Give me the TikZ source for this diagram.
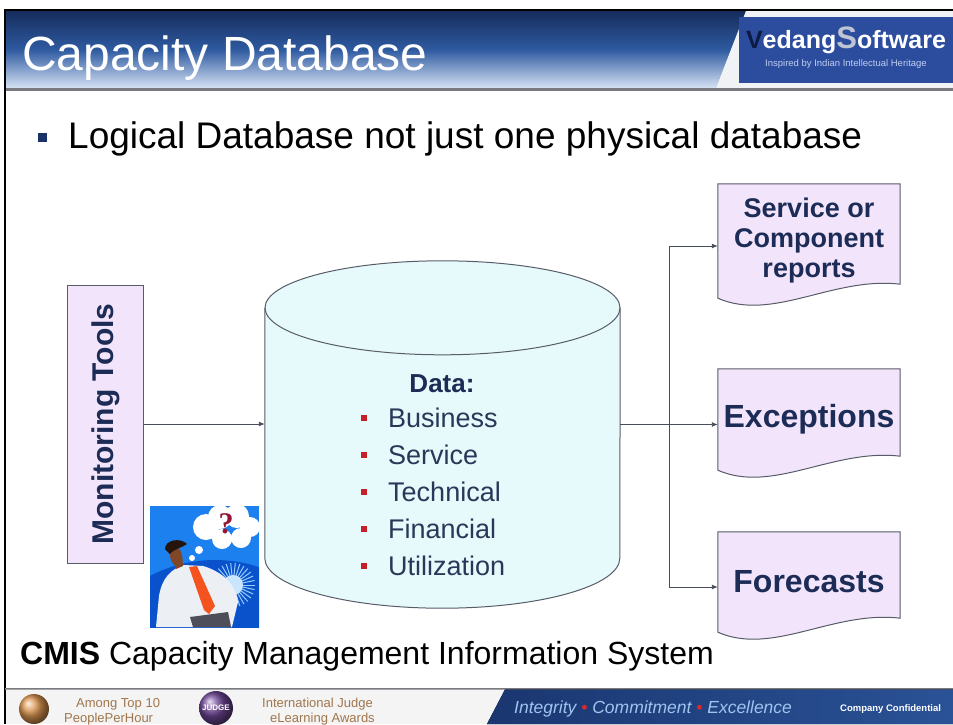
\documentclass[tikz,border=0pt]{standalone}
\usepackage{fontspec}
\setmainfont{Liberation Sans}
\newfontfamily\qfont{Liberation Serif}
\usepackage{xcolor}
\usetikzlibrary{arrows.meta, positioning, calc, backgrounds}
\definecolor{hdrTop}{RGB}{22,44,92}
\definecolor{hdrMid}{RGB}{46,90,160}
\definecolor{hdrBot}{RGB}{214,226,244}
\definecolor{hdrRight}{RGB}{240,242,246}
\definecolor{logoBlue}{RGB}{44,76,158}
\definecolor{logoNavy}{RGB}{14,26,70}
\definecolor{logoSilver}{RGB}{190,196,210}
\definecolor{tagBlue}{RGB}{190,206,240}
\definecolor{ruleGray}{RGB}{120,122,128}
\definecolor{boxFill}{RGB}{242,228,250}
\definecolor{dbFill}{RGB}{230,250,252}
\definecolor{edgeGray}{RGB}{88,92,104}
\definecolor{wireGray}{RGB}{70,76,88}
\definecolor{textNavy}{RGB}{28,44,86}
\definecolor{itemSlate}{RGB}{40,56,88}
\definecolor{bulletRed}{RGB}{200,30,40}
\definecolor{bulletNavy}{RGB}{26,50,104}
\definecolor{footGray}{RGB}{244,244,244}
\definecolor{footBlueL}{RGB}{26,54,112}
\definecolor{footBlueR}{RGB}{42,82,150}
\definecolor{footText}{RGB}{160,196,240}
\definecolor{footRed}{RGB}{224,40,40}
\definecolor{awardBrown}{RGB}{160,118,76}
\definecolor{awardTan}{RGB}{220,150,80}
\definecolor{judgePurple}{RGB}{110,70,150}
\definecolor{clipBlue}{RGB}{28,128,238}
\definecolor{clipDeep}{RGB}{10,82,204}
\definecolor{rayBlue}{RGB}{150,205,255}
\definecolor{shirtWhite}{RGB}{236,240,244}
\definecolor{skin}{RGB}{128,70,40}
\definecolor{hair}{RGB}{36,20,12}
\definecolor{tieRed}{RGB}{244,82,30}
\definecolor{pantsGray}{RGB}{78,78,90}
\definecolor{qMaroon}{RGB}{150,20,52}

\begin{document}
\begin{tikzpicture}[
    x=1pt, y=-1pt,
    srcbox/.style   = {draw=edgeGray, line width=1pt, fill=boxFill,
                       minimum width=76, minimum height=278},
    docbox/.style   = {minimum width=182, minimum height=#1, inner sep=0pt,
                       align=center, text=textNavy},
    docline/.style  = {draw=edgeGray, line width=1pt, fill=boxFill},
    dbline/.style   = {draw=edgeGray, line width=1pt},
    dataitem/.style = {anchor=base west, inner sep=0pt, text=itemSlate,
                       font=\fontsize{27}{30}\selectfont},
    sqbullet/.style = {fill=bulletRed, minimum size=6, inner sep=0pt},
    wire/.style     = {line width=0.9pt, draw=wireGray},
    flow/.style     = {wire, -{Latex[length=6pt,width=5pt]}},
    slidetext/.style= {anchor=base west, inner sep=0pt}
]
\useasboundingbox (0,0) rectangle (953,724);

% Header band with the logo on the right
\fill[top color=hdrTop, bottom color=hdrBot, middle color=hdrMid]
    (5,11) -- (746,11) -- (716,88) -- (5,88) -- cycle;
\fill[hdrRight] (746,11) -- (953,11) -- (953,88) -- (716,88) -- cycle;
\node[fill=logoBlue, minimum width=214, minimum height=66, inner sep=0pt]
    (logo) at (846,50) {};
\node[text=white, font=\bfseries\fontsize{25}{25}\selectfont, inner sep=0pt]
    (brand) at (846,40)
    {{\color{logoNavy}V}edang{\color{logoSilver}\fontsize{31}{31}\selectfont S}oftware};
\node[text=tagBlue, font=\fontsize{9.5}{9.5}\selectfont, inner sep=0pt]
    (tagline) at (846,64) {Inspired by Indian Intellectual Heritage};
\node[slidetext, text=white, font=\fontsize{48}{48}\selectfont]
    (title) at (22,70) {Capacity Database};
\draw[line width=2.5pt, draw=ruleGray] (5,89.5) -- (953,89.5);
\draw[line width=1.6pt] (5,724) -- (5,10) -- (953,10);

% Lead bullet
\node[fill=bulletNavy, minimum size=9, inner sep=0pt] (leadmark) at (42,137) {};
\node[slidetext, font=\fontsize{37}{40}\selectfont]
    (lead) at (68,148) {Logical Database not just one physical database};

% Source box
\node[srcbox] (mon) at (105.5,424) {};
\node[rotate=90, text=textNavy, font=\bfseries\fontsize{30}{30}\selectfont]
    (monlabel) at (mon) {Monitoring Tools};

% Database body and its contents
\node[minimum width=355, minimum height=250, inner sep=0pt] (db) at (442.5,433) {};
\node[anchor=base, inner sep=0pt, text=textNavy,
      font=\bfseries\fontsize{26}{26}\selectfont] (datahead) at (442,392) {Data:};
\foreach \what [count=\i] in {Business,Service,Technical,Financial,Utilization} {
    \node[dataitem] (item\i) at (388,390+37*\i) {\what};
    \node[sqbullet] (mark\i) at (364,381+37*\i) {};
}

% Output documents
\node[docbox=114, font=\bfseries\fontsize{27}{30}\selectfont]
    (rep) at (809,241) {Service or\\Component\\reports};
\node[docbox=101, font=\bfseries\fontsize{32}{32}\selectfont]
    (exc) at (809,419.5) {Exceptions};
\node[docbox=100, font=\bfseries\fontsize{32}{32}\selectfont]
    (fct) at (809,582) {Forecasts};

\begin{scope}[on background layer]
  \fill[dbFill] (db.north west) -- (db.south west)
      arc[start angle=180, end angle=360, x radius=177.5pt, y radius=50pt]
      -- (db.north east)
      arc[start angle=0, end angle=180, x radius=177.5pt, y radius=47pt] -- cycle;
  \draw[dbline] (db.north west) -- (db.south west)
      arc[start angle=180, end angle=360, x radius=177.5pt, y radius=50pt]
      -- (db.north east);
  \draw[dbline] (db.north) ellipse[x radius=177.5pt, y radius=47pt];
  \foreach \d in {rep,exc,fct}
    \filldraw[docline] (\d.north west) -- (\d.north east)
        -- ([yshift=14pt]\d.south east) .. controls +(-67,-8) and +(55,24) .. (\d.south west)
        -- cycle;
\end{scope}

% Connectors
\coordinate (split) at ($(mon.east -| db.east)+(49,0)$);
\draw[flow] (mon.east) -- (mon.east -| db.west);
\draw[wire] (mon.east -| db.east) -- (split);
\draw[flow] (split) |- ([yshift=-5pt]rep.west);
\draw[flow] (split) |- ([yshift=-5pt]exc.west);
\draw[flow] (split) |- ([yshift=-5pt]fct.west);

% Puzzled man clip art
\begin{scope}
  \clip (150,506) rectangle (259,627);
  \fill[clipBlue] (150,506) rectangle (259,627);
  \fill[clipDeep] (215,700) circle[radius=140pt];
  \foreach \a in {0,12,...,350}
    \draw[rayBlue, line width=1pt] (233,585) -- ++(\a:22pt);
  \fill[rayBlue!50!white] (233,585) circle[radius=10pt];
  \fill[white] (206,527) circle[radius=13pt] (220,517) circle[radius=12pt]
      (237,516) circle[radius=12pt] (250,527) circle[radius=10pt]
      (241,538) circle[radius=10pt] (222,539) circle[radius=10pt]
      (199,550) circle[radius=4pt] (192,558) circle[radius=3pt];
  \fill[shirtWhite] (156,627) -- (159,596) .. controls (162,578) and (171,569) .. (184,565)
      -- (203,566) .. controls (224,572) and (236,586) .. (238,602) -- (232,627) -- cycle;
  \fill[skin] (183,566) -- (182,556) -- (174,562) -- (176,569) -- cycle;
  \fill[skin, rotate around={15:(176,556)}] (176,556) ellipse[x radius=6pt, y radius=11pt];
  \fill[hair] (165,549) .. controls (165,540) and (180,537) .. (187,544)
      .. controls (182,548) and (175,548) .. (170,554) -- cycle;
  \fill[tieRed] (189,567) -- (197,566) -- (215,606) -- (209,614) -- (204,610) -- cycle;
  \fill[pantsGray] (190,617) -- (228,612) -- (231,627) -- (193,627) -- cycle;
\end{scope}
\node[text=qMaroon, font=\qfont\bfseries\fontsize{30}{30}\selectfont, inner sep=0pt]
    (qmark) at (226,524) {?};

% Closing line
\node[slidetext, font=\fontsize{32}{32}\selectfont]
    (cmis) at (20,664) {\textbf{CMIS} Capacity Management Information System};

% Footer strip
\draw[line width=2pt, draw=ruleGray] (5,688.5) -- (953,688.5);
\fill[footGray] (6,689.5) -- (505,689.5) -- (487,724) -- (6,724) -- cycle;
\fill[left color=footBlueL, right color=footBlueR]
    (505,689.5) -- (953,689.5) -- (953,724) -- (487,724) -- cycle;
\node[circle, minimum size=30, inner sep=0pt, ball color=awardTan] (award1) at (34,709) {};
\node[slidetext, text=awardBrown, font=\fontsize{13}{13}\selectfont]
    (award1a) at (76,707) {Among Top 10};
\node[slidetext, text=awardBrown, font=\fontsize{13}{13}\selectfont]
    (award1b) at (64,722) {PeoplePerHour};
\node[circle, minimum size=34, inner sep=0pt, ball color=judgePurple, text=white,
      font=\bfseries\fontsize{8}{8}\selectfont] (award2) at (216,708) {JUDGE};
\node[slidetext, text=awardBrown, font=\fontsize{13}{13}\selectfont]
    (award2a) at (262,707) {International Judge};
\node[slidetext, text=awardBrown, font=\fontsize{13}{13}\selectfont]
    (award2b) at (270,722) {eLearning Awards};
\node[slidetext, text=footText, font=\itshape\fontsize{17.5}{17.5}\selectfont]
    (motto) at (514,713)
    {Integrity {\color{footRed}\textbullet} Commitment {\color{footRed}\textbullet} Excellence};
\node[slidetext, text=white, font=\bfseries\fontsize{9.5}{10}\selectfont]
    (conf) at (840,711) {Company Confidential};

\end{tikzpicture}
\end{document}
